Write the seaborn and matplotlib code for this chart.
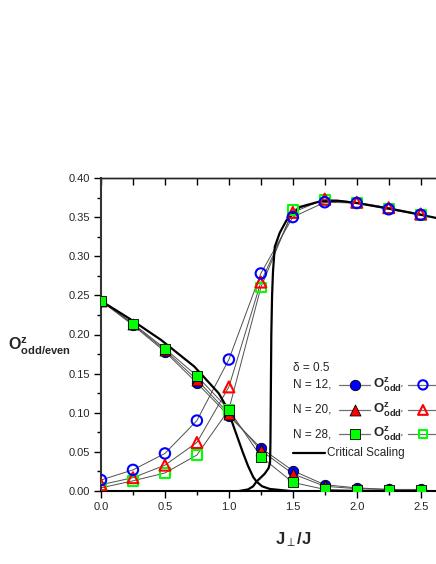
import numpy as np
import matplotlib
matplotlib.use("Agg")
import matplotlib.pyplot as plt
import seaborn as sns

# ---------------- data ----------------
J = [0.0, 0.25, 0.5, 0.75, 1.0, 1.25, 1.5, 1.75, 2.0, 2.25, 2.5]

odd_12 = [0.243, 0.212, 0.178, 0.138, 0.096, 0.055, 0.026, 0.008, 0.004, 0.002, 0.002]
odd_20 = [0.243, 0.213, 0.180, 0.142, 0.099, 0.052, 0.022, 0.006, 0.003, 0.002, 0.001]
odd_28 = [0.243, 0.214, 0.182, 0.147, 0.104, 0.044, 0.011, 0.002, 0.001, 0.001, 0.001]

even_12 = [0.014, 0.027, 0.048, 0.090, 0.168, 0.278, 0.350, 0.369, 0.368, 0.360, 0.353]
even_20 = [0.008, 0.017, 0.033, 0.062, 0.133, 0.267, 0.356, 0.373, 0.369, 0.362, 0.354]
even_28 = [0.004, 0.013, 0.023, 0.046, 0.104, 0.260, 0.359, 0.372, 0.368, 0.361, 0.353]

crit_left_J = [0.0, 0.24, 0.47, 0.73, 0.92, 0.98, 1.01, 1.06, 1.11, 1.15, 1.19, 1.216, 1.26, 1.32, 1.48]
crit_left_O = [0.243, 0.2185, 0.193, 0.159, 0.125, 0.108, 0.095, 0.072, 0.049, 0.032, 0.018, 0.012, 0.006, 0.0026, 0.0]

crit_right_J = [1.08, 1.15, 1.19, 1.216, 1.242, 1.28, 1.31, 1.322, 1.325, 1.328, 1.332, 1.338, 1.345,
                1.359, 1.398, 1.451, 1.555, 1.711, 1.85, 2.0, 2.25, 2.5, 2.62]
crit_right_O = [0.0, 0.002, 0.006, 0.012, 0.016, 0.022, 0.029, 0.036, 0.06, 0.12, 0.20, 0.25, 0.28,
                0.312, 0.330, 0.346, 0.363, 0.370, 0.371, 0.368, 0.361, 0.353, 0.349]

sizes = ["N = 12,", "N = 20,", "N = 28,"]
delta_label = "\u03b4 = 0.5"
crit_label = "Critical Scaling"
x_ticks = [0.0, 0.5, 1.0, 1.5, 2.0, 2.5]
y_ticks = [0.00, 0.05, 0.10, 0.15, 0.20, 0.25, 0.30, 0.35, 0.40]

# ---------------- style ----------------
sns.set_style("ticks")
plt.rcParams['font.family'] = ['Liberation Sans', 'DejaVu Sans']
plt.rcParams['mathtext.fontset'] = 'custom'
plt.rcParams['mathtext.rm'] = 'Liberation Sans'
plt.rcParams['mathtext.bf'] = 'Liberation Sans:bold'
plt.rcParams['mathtext.it'] = 'Liberation Sans:italic'

fig = plt.figure(figsize=(4.36, 5.64), dpi=100)
ax = fig.add_axes([101/436, 1 - 491/564, 335/436, 313/564])

colors = ['#0000ff', '#ff0000', '#00ff00']
markers = ['o', '^', 's']
msize = [56, 62, 50]
odds = [odd_12, odd_20, odd_28]
evens = [even_12, even_20, even_28]

line_col = '#505050'
for i in range(3):
    sns.lineplot(x=J, y=odds[i], ax=ax, color=line_col, lw=0.7, sort=False,
                 estimator=None, zorder=2)
    sns.lineplot(x=J, y=evens[i], ax=ax, color=line_col, lw=0.7, sort=False,
                 estimator=None, zorder=2)

sns.lineplot(x=crit_left_J, y=crit_left_O, ax=ax, color='black', lw=1.6, sort=False,
             estimator=None, zorder=3)
sns.lineplot(x=crit_right_J, y=crit_right_O, ax=ax, color='black', lw=1.6, sort=False,
             estimator=None, zorder=3)

# open markers (green first so blue is on top)
for i in [2, 1, 0]:
    sns.scatterplot(x=J, y=evens[i], ax=ax, marker=markers[i], s=msize[i],
                    facecolor='none', edgecolor=colors[i], linewidth=1.5, zorder=4)
# filled markers
for i in [0, 1, 2]:
    sns.scatterplot(x=J, y=odds[i], ax=ax, marker=markers[i], s=msize[i],
                    color=colors[i], edgecolor='black', linewidth=0.6, zorder=5)

ax.set_xlim(0, 2.62)
ax.set_ylim(0, 0.40)
ax.set_xticks(x_ticks)
ax.set_xticks(np.arange(0, 2.62, 0.25), minor=True)
ax.set_yticks(y_ticks)
ax.set_yticks(np.arange(0, 0.401, 0.025), minor=True)
ax.set_xticklabels([f"{v:.1f}" for v in x_ticks])
ax.set_yticklabels([f"{v:.2f}" for v in y_ticks])
ax.tick_params(axis='both', which='major', direction='out', length=5, width=1,
               labelsize=8, pad=3, top=False, right=False, color='black')
ax.tick_params(axis='both', which='minor', direction='out', length=3, width=1,
               top=False, right=False, color='black')

sec = ax.secondary_xaxis('top')
sec.set_xticks(np.arange(0, 2.62, 0.25))
sec.tick_params(direction='in', length=5, width=1, labeltop=False, color='black')
sec.spines['top'].set_linewidth(1.0)

ax.spines['right'].set_visible(False)
ax.spines['top'].set_linewidth(1.0)
ax.spines['left'].set_linewidth(1.5)
ax.spines['left'].set_color('#333333')
ax.spines['bottom'].set_linewidth(1.5)
ax.spines['bottom'].set_color('black')

ax.set_xlabel(r"$\mathbf{J}_{\perp}\mathbf{/J}$", fontsize=12)
ax.xaxis.set_label_coords(0.573, -0.125)
ax.set_ylabel(r"$\mathbf{O}^{\mathbf{z}}_{\mathbf{odd/even}}$", fontsize=11.5, rotation=0,
              ha='center', va='center')
ax.yaxis.set_label_coords(-0.184, 0.462)

# ---------------- legend (manual) ----------------
T = ax.transAxes
fs = 8.5
ax.text(0.573, 0.393, delta_label, transform=T, fontsize=fs, va='center', ha='left')
rows_y = [0.339, 0.259, 0.182]
for i in range(3):
    y = rows_y[i]
    ax.text(0.573, y, sizes[i], transform=T, fontsize=fs, va='center', ha='left')
    ax.plot([0.710, 0.803], [y, y], transform=T, color='#707070', lw=0.9, clip_on=False, zorder=6)
    ax.scatter([0.758], [y], transform=T, marker=markers[i], s=msize[i], color=colors[i],
               edgecolor='black', linewidth=0.6, zorder=7, clip_on=False)
    ax.text(0.812, y, r"$\mathbf{O}^{\mathbf{z}}_{\mathbf{odd}\prime}$", transform=T,
            fontsize=9.5, va='center', ha='left')
    ax.plot([0.916, 1.05], [y, y], transform=T, color='#707070', lw=0.9, clip_on=True, zorder=6)
    ax.scatter([0.961], [y], transform=T, marker=markers[i], s=msize[i] * 0.8, facecolor='none',
               edgecolor=colors[i], linewidth=1.5, zorder=7, clip_on=False)
ax.plot([0.573, 0.669], [0.121, 0.121], transform=T, color='black', lw=1.6, zorder=6)
ax.text(0.675, 0.121, crit_label, transform=T, fontsize=fs, va='center', ha='left')

fig.savefig("out.png", dpi=100)
